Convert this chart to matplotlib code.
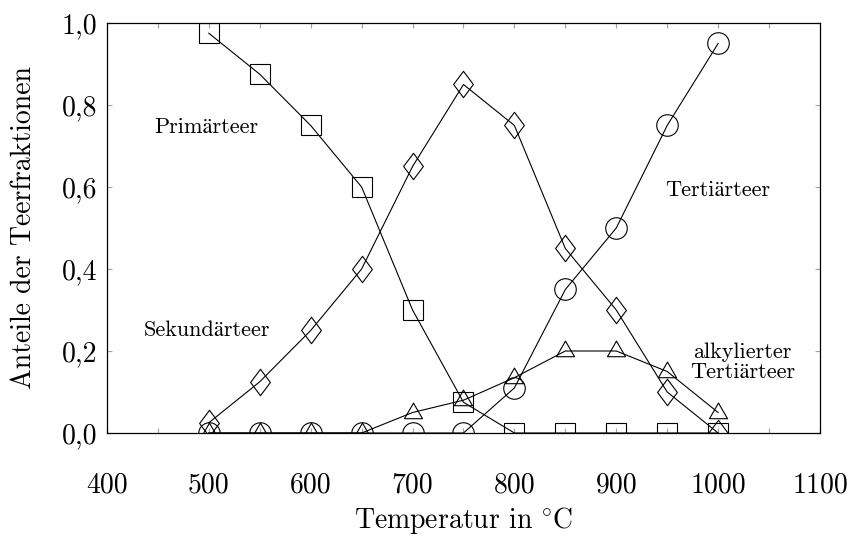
import numpy as np
import matplotlib
matplotlib.use("Agg")
import matplotlib.pyplot as plt
from matplotlib.path import Path
from matplotlib.ticker import MultipleLocator

plt.rcParams['font.family'] = ['cmr10', 'STIXGeneral']
plt.rcParams['mathtext.fontset'] = 'cm'
plt.rcParams['axes.unicode_minus'] = False

# data
temp = [500, 550, 600, 650, 700, 750, 800, 850, 900, 950, 1000]
primaer = [0.975, 0.875, 0.75, 0.6, 0.3, 0.075, 0.0, 0.0, 0.0, 0.0, 0.0]
sekundaer = [0.025, 0.125, 0.25, 0.4, 0.65, 0.85, 0.75, 0.45, 0.3, 0.1, 0.0]
tertiaer = [0.0, 0.0, 0.0, 0.0, 0.0, 0.0, 0.11, 0.35, 0.5, 0.75, 0.95]
alkyl = [0.0, 0.0, 0.0, 0.0, 0.05, 0.08, 0.135, 0.2, 0.2, 0.15, 0.05]

yticks = [0.0, 0.2, 0.4, 0.6, 0.8, 1.0]
xticks = [400, 500, 600, 700, 800, 900, 1000, 1100]

# pgfplots-like markers
diamond = Path([(0, 1), (0.75, 0), (0, -1), (-0.75, 0), (0, 1)],
               [Path.MOVETO, Path.LINETO, Path.LINETO, Path.LINETO, Path.CLOSEPOLY])
s3 = np.sqrt(3) / 2
triangle = Path([(0, 1), (-s3, -0.5), (s3, -0.5), (0, 1)],
                [Path.MOVETO, Path.LINETO, Path.LINETO, Path.CLOSEPOLY])

fig = plt.figure(figsize=(8.53, 5.42), dpi=100)
ax = fig.add_axes([0.1254, 0.2011, 0.8359, 0.7565])

lw = 0.8
kw = dict(color='black', lw=lw, mfc='none', mec='black', mew=lw)
ax.plot(temp, primaer, marker='s', ms=15, **kw)
ax.plot(temp, sekundaer, marker=diamond, ms=19, **kw)
ax.plot(temp, tertiaer, marker='o', ms=15.5, **kw)
ax.plot(temp, alkyl, marker=triangle, ms=15, **kw)

ax.text(498, 0.745, 'Primärteer', fontsize=16, ha='center', va='center')
ax.text(498, 0.25, 'Sekundärteer', fontsize=16, ha='center', va='center')
ax.text(1000, 0.593, 'Tertiärteer', fontsize=16, ha='center', va='center')
ax.text(1024, 0.173, 'alkylierter\nTertiärteer', fontsize=16, ha='center',
        va='center', linespacing=1.0)

ax.set_xlim(400, 1100)
ax.set_ylim(0, 1.0)
ax.set_xticks(xticks)
ax.set_xticklabels([str(t) for t in xticks])
ax.xaxis.set_minor_locator(MultipleLocator(50))
ax.set_yticks(yticks)
ax.set_yticklabels([('%.1f' % t).replace('.', ',') for t in yticks])

for sp in ax.spines.values():
    sp.set_linewidth(0.9)
ax.tick_params(which='both', direction='in', top=True, right=True,
               length=3.5, width=0.8, color='#a0a0a0', labelsize=20)
ax.tick_params(axis='x', pad=28)
ax.tick_params(axis='y', pad=7)

ax.set_xlabel(r'Temperatur in $\!^\circ\!$C', fontsize=20)
ax.set_ylabel('Anteile der Teerfraktionen', fontsize=20)
ax.xaxis.set_label_coords(0.5, -0.175)
ax.yaxis.set_label_coords(-0.098, 0.5)

fig.savefig('out.png', dpi=100)
